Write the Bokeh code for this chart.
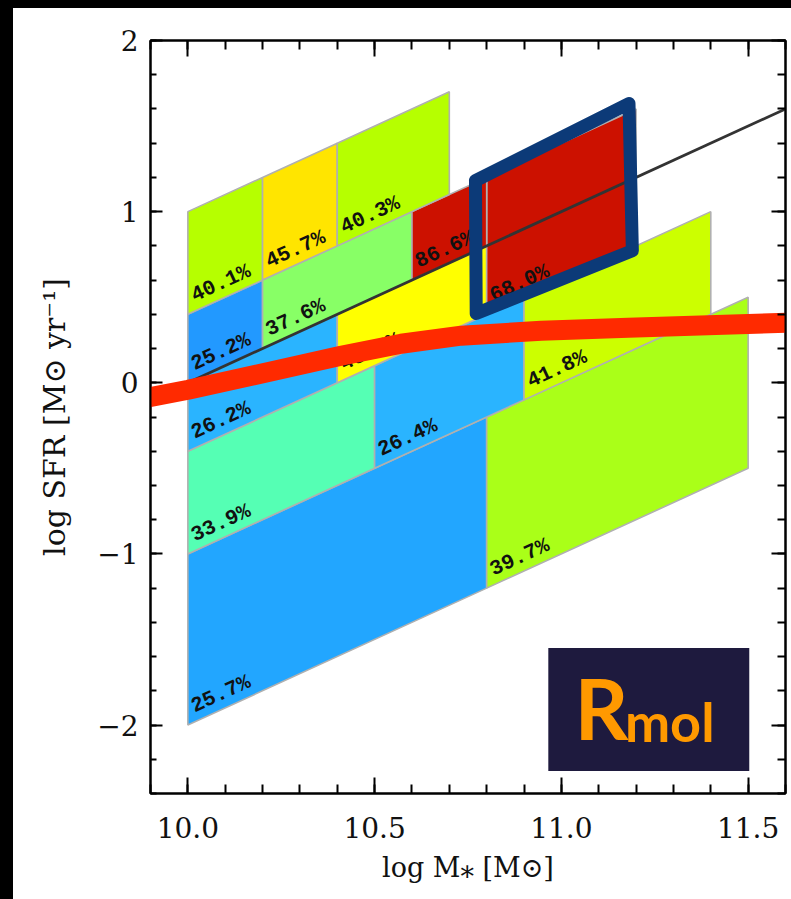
import math
from bokeh.plotting import figure
from bokeh.models import ColumnDataSource, FixedTicker, LinearAxis, Range1d, GlobalInlineStyleSheet
from bokeh.core.properties import value
from bokeh.embed import file_html
from bokeh.resources import INLINE

# ---------------- data ----------------
# cells: stellar-mass bin edges and specific-SFR bin edges (log sSFR = log SFR - log M*)
mass_lo = [10.0, 10.8, 10.0, 10.5, 10.9, 10.0, 10.4, 10.8, 10.0, 10.2, 10.6, 10.0, 10.2, 10.4]
mass_hi = [10.8, 11.5, 10.5, 10.9, 11.4, 10.4, 10.8, 11.2, 10.2, 10.6, 10.8, 10.2, 10.4, 10.7]
ssfr_lo = [-12.0, -12.0, -11.0, -11.0, -11.0, -10.4, -10.4, -10.4, -10.0, -10.0, -10.0, -9.6, -9.6, -9.6]
ssfr_hi = [-11.0, -11.0, -10.4, -10.4, -10.4, -10.0, -10.0, -9.6, -9.6, -9.6, -9.6, -9.0, -9.0, -9.0]
cell_labels = ["25.7%", "39.7%", "33.9%", "26.4%", "41.8%", "26.2%", "45.5%", "68.0%",
               "25.2%", "37.6%", "86.6%", "40.1%", "45.7%", "40.3%"]
cell_colors = ["#22a6ff", "#aaff18", "#55ffb4", "#2ab4ff", "#ccff00", "#2ab4ff", "#ffff00", "#cc1100",
               "#2299ff", "#88ff66", "#cc1100", "#b6ff00", "#ffe500", "#b6ff00"]

# main sequence line (constant sSFR)
ms_mass = [9.9, 11.6]
ms_ssfr = -10.0

# hand-drawn annotations
red_mass = [9.888, 10.001, 10.231, 10.410, 10.571, 10.732, 10.946, 11.179, 11.615]
red_sfr = [-0.088, -0.041, 0.070, 0.158, 0.228, 0.275, 0.304, 0.322, 0.351]
blue_mass = [10.770, 11.181, 11.190, 10.772, 10.770]
blue_sfr = [1.181, 1.632, 0.772, 0.405, 1.181]

# Rmol badge
badge_left, badge_right, badge_top, badge_bottom = [10.965], [11.503], [-1.550], [-2.269]
badge_R_pos = (11.035, -1.895)
badge_sub_pos = (11.170, -1.982)

x_ticks = [10.0, 10.5, 11.0, 11.5]
x_tick_labels = ["10.0", "10.5", "11.0", "11.5"]
y_ticks = [-2, -1, 0, 1, 2]
y_tick_labels = ["\u22122", "\u22121", "0", "1", "2"]
x_minor = [round(10.0 + 0.1 * i, 1) for i in range(-1, 17)]
y_minor = [round(-2.4 + 0.2 * i, 1) for i in range(0, 23)]

X_RANGE = (9.9, 11.6)
Y_RANGE = (-2.4, 2.0)

# ---------------- figure ----------------
W, H = 775, 883
ML, MR, MT, MB = 137, 3, 32, 98

p = figure(width=W, height=H, x_range=Range1d(*X_RANGE), y_range=Range1d(*Y_RANGE),
           output_backend="svg", toolbar_location=None,
           min_border_left=ML, min_border_right=MR, min_border_top=MT, min_border_bottom=MB,
           x_axis_label="log M\u204e [M\u2299]", y_axis_label="log SFR [M\u2299 yr\u207b\u00b9]")
p.stylesheets = [GlobalInlineStyleSheet(css="html{background:#fff;} body{margin:0;border-top:8px solid #000;border-left:13px solid #000;background:#fff;overflow:hidden;}")]
p.background_fill_color = "white"
p.border_fill_color = "white"
p.outline_line_color = "black"
p.outline_line_width = 2
p.xgrid.grid_line_color = None
p.ygrid.grid_line_color = None

frame_w = W - ML - MR
frame_h = H - MT - MB
px_per_x = frame_w / (X_RANGE[1] - X_RANGE[0])
px_per_y = frame_h / (Y_RANGE[1] - Y_RANGE[0])
label_angle = math.atan(px_per_y / px_per_x)

# cells
xs, ys, lx, ly = [], [], [], []
for m0, m1, s0, s1 in zip(mass_lo, mass_hi, ssfr_lo, ssfr_hi):
    xs.append([m0, m1, m1, m0])
    ys.append([s0 + m0, s0 + m1, s1 + m1, s1 + m0])
    ax = m0 + 0.012
    lx.append(ax)
    ly.append(s0 + ax + 0.09)

cells = ColumnDataSource(dict(xs=xs, ys=ys, color=cell_colors))
p.patches("xs", "ys", source=cells, fill_color="color", line_color="#b0b0b0", line_width=1.6)

labs = ColumnDataSource(dict(x=lx, y=ly, text=cell_labels, angle=[label_angle] * len(lx)))
p.text("x", "y", text="text", angle="angle", source=labs, text_font=value("Liberation Mono"),
       text_font_style="bold", text_font_size="21px", text_color="#111111",
       text_align="left", text_baseline="alphabetic")

# main sequence
p.line(ms_mass, [m + ms_ssfr for m in ms_mass], line_color="#333333", line_width=2.8)

# hand-drawn highlights
p.line(blue_mass, blue_sfr, line_color="#0c3a78", line_width=13, line_join="round", line_cap="round")
p.line(red_mass, red_sfr, line_color="#ff2a00", line_width=20, line_join="round", line_cap="round")

# Rmol badge
p.quad(left=badge_left, right=badge_right, top=badge_top, bottom=badge_bottom,
       fill_color="#1e1a3e", line_color=None)
p.text([badge_R_pos[0]], [badge_R_pos[1]], text=["R"], text_font=value("Lato"), text_font_style="bold",
       text_font_size="84px", text_color="#ff9900", text_align="left", text_baseline="alphabetic")
p.text([badge_sub_pos[0]], [badge_sub_pos[1]], text=["mol"], text_font=value("Lato"), text_font_style="bold",
       text_font_size="54px", text_color="#ff9900", text_align="left", text_baseline="alphabetic")

# axes
serif = "DejaVu Serif"
xaxis = p.xaxis[0]
yaxis = p.yaxis[0]
xaxis.ticker = FixedTicker(ticks=x_ticks, minor_ticks=x_minor)
yaxis.ticker = FixedTicker(ticks=y_ticks, minor_ticks=y_minor)
xaxis.major_label_overrides = dict(zip(x_ticks, x_tick_labels))
yaxis.major_label_overrides = dict(zip(y_ticks, y_tick_labels))

for ax, tin, tmin in ((xaxis, 16, 9), (yaxis, 12, 6)):
    ax.major_tick_in = tin
    ax.major_tick_out = 0
    ax.minor_tick_in = tmin
    ax.minor_tick_out = 0
    ax.major_tick_line_width = 2
    ax.minor_tick_line_width = 2
    ax.axis_line_width = 2
    ax.major_label_text_font = serif
    ax.major_label_text_font_size = "28px"
    ax.major_label_text_color = "#111111"
    ax.axis_label_text_font = serif
    ax.axis_label_text_font_style = "normal"
    ax.axis_label_text_color = "#111111"

xaxis.axis_label_text_font_size = "27px"
yaxis.axis_label_text_font_size = "30px"
xaxis.major_label_standoff = 23
xaxis.axis_label_standoff = 11
yaxis.major_label_standoff = 12
yaxis.axis_label_standoff = 22

top_axis = LinearAxis(ticker=FixedTicker(ticks=x_ticks, minor_ticks=x_minor))
right_axis = LinearAxis(ticker=FixedTicker(ticks=y_ticks, minor_ticks=y_minor))
top_axis.major_label_overrides = {t: "" for t in x_ticks}
right_axis.major_label_overrides = {t: "" for t in y_ticks}
for ax, tin, tmin in ((top_axis, 16, 9), (right_axis, 14, 8)):
    ax.major_tick_in = tin
    ax.major_tick_out = 0
    ax.minor_tick_in = tmin
    ax.minor_tick_out = 0
    ax.major_tick_line_width = 2
    ax.minor_tick_line_width = 2
    ax.axis_line_width = 2
    ax.major_label_text_font_size = "10px"
    ax.major_label_standoff = 0
    ax.axis_label = None
p.add_layout(top_axis, "above")
p.add_layout(right_axis, "right")

open("out.html", "w").write(file_html(p, INLINE))
